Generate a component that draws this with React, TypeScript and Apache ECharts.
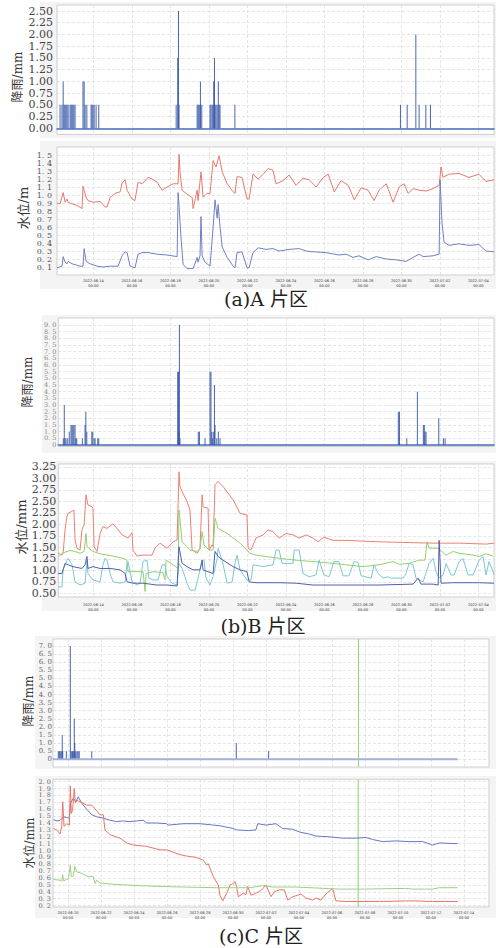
import React, { useEffect, useRef } from 'react';
import * as echarts from 'echarts';

// x values are days counted from 2022-06-00 (31 = 2022-07-01)
const X_TICKS_AB = [14, 16, 18, 20, 22, 24, 26, 28, 30, 32, 34];
const X_TICKS_C = [20, 22, 24, 26, 28, 30, 32, 34, 36, 38, 40, 42, 44];

const A_RAIN_TICKS = [0, 0.25, 0.5, 0.75, 1, 1.25, 1.5, 1.75, 2, 2.25, 2.5];
const A_WATER_TICKS = [0.1, 0.2, 0.3, 0.4, 0.5, 0.6, 0.7, 0.8, 0.9, 1.0, 1.1, 1.2, 1.3, 1.4, 1.5];
const B_RAIN_TICKS = [0, 0.5, 1, 1.5, 2, 2.5, 3, 3.5, 4, 4.5, 5, 5.5, 6, 6.5, 7, 7.5, 8, 8.5, 9];
const B_WATER_TICKS = [0.5, 0.75, 1, 1.25, 1.5, 1.75, 2, 2.25, 2.5, 2.75, 3, 3.25];
const C_RAIN_TICKS = [0, 0.5, 1, 1.5, 2, 2.5, 3, 3.5, 4, 4.5, 5, 5.5, 6, 6.5, 7];
const C_WATER_TICKS = [0.2, 0.3, 0.4, 0.5, 0.6, 0.7, 0.8, 0.9, 1.0, 1.1, 1.2, 1.3, 1.4, 1.5, 1.6, 1.7, 1.8, 1.9, 2.0];
const C_WATER_MIN = 0.18;
const C_WATER_MAX = 2.035;

const A_RAIN = [
  [12.27, 0.5], [12.37, 0.5], [12.43, 1.0], [12.48, 0.5], [12.53, 0.5], [12.58, 0.5], [12.63, 0.5], [12.69, 0.5],
  [12.79, 0.5], [12.84, 0.5], [12.89, 0.5], [12.94, 0.5], [12.99, 0.5], [13.05, 0.5],
  [13.46, 1.0], [13.52, 1.0], [13.57, 0.5], [13.66, 0.5], [13.88, 0.5], [13.93, 0.5], [13.98, 0.5], [14.04, 0.5],
  [14.14, 0.5], [14.28, 0.5],
  [18.30, 0.5], [18.38, 1.5], [18.42, 2.5], [18.45, 0.5],
  [19.39, 0.5], [19.44, 0.5], [19.49, 0.5], [19.54, 0.5], [19.56, 1.0], [19.63, 0.5],
  [20.06, 0.5], [20.11, 0.5], [20.17, 0.5], [20.22, 0.5], [20.25, 1.0], [20.29, 1.5], [20.32, 0.5], [20.37, 0.5],
  [20.43, 0.5], [20.49, 1.0], [20.53, 0.5], [20.58, 0.5],
  [21.35, 0.5],
  [29.95, 0.5], [30.30, 0.5], [30.75, 2.0], [30.92, 0.5], [31.27, 0.5], [31.51, 0.5],
];

const A_RED = [
  [12.11, 0.90], [12.27, 0.89], [12.43, 1.03], [12.53, 0.91], [12.63, 0.95], [12.69, 0.91], [12.89, 0.89], [13.15, 0.87],
  [13.41, 0.83], [13.46, 1.11], [13.62, 0.97], [13.72, 0.93], [13.98, 0.91], [14.35, 0.92], [14.61, 0.85], [14.71, 0.85],
  [14.87, 0.97], [15.13, 1.02], [15.39, 1.04], [15.49, 1.15], [15.65, 1.19], [15.75, 1.06], [16.01, 0.95], [16.16, 0.93],
  [16.32, 1.16], [16.53, 1.14], [16.84, 1.22], [17.05, 1.20], [17.31, 1.16], [17.57, 1.06], [17.83, 1.10], [18.14, 1.14],
  [18.40, 1.14], [18.45, 1.51], [18.50, 1.29], [18.61, 1.06], [18.87, 1.01], [19.13, 0.97], [19.18, 0.83], [19.39, 1.06],
  [19.44, 0.93], [19.59, 1.29], [19.70, 0.97], [19.90, 1.02], [20.06, 1.02], [20.22, 1.43], [20.37, 1.35], [20.53, 1.49],
  [20.69, 1.29], [20.95, 1.14], [21.26, 1.04], [21.36, 1.02], [21.46, 1.23], [21.72, 1.22], [21.98, 0.95], [22.09, 0.95],
  [22.29, 1.26], [22.56, 1.20], [22.82, 1.26], [23.07, 1.33], [23.33, 1.31], [23.49, 1.14], [23.85, 1.18], [24.17, 1.25],
  [24.53, 1.12], [24.89, 1.21], [25.21, 1.19], [25.57, 1.10], [25.94, 1.22], [26.20, 1.26], [26.51, 1.04], [26.87, 1.18],
  [27.24, 1.12], [27.55, 0.94], [27.91, 1.09], [28.27, 1.06], [28.58, 0.93], [28.84, 1.06], [29.21, 1.14], [29.57, 0.91],
  [29.88, 1.10], [30.14, 1.14], [30.35, 1.02], [30.61, 1.08], [30.92, 1.06], [31.28, 1.05], [31.65, 1.08], [31.96, 1.12],
  [32.06, 1.35], [32.16, 1.22], [32.47, 1.26], [32.99, 1.27], [33.51, 1.22], [34.03, 1.26], [34.39, 1.17], [34.81, 1.19],
];

const A_BLUE = [
  [12.11, 0.09], [12.37, 0.11], [12.43, 0.23], [12.53, 0.16], [12.63, 0.14], [12.69, 0.17], [12.89, 0.14], [13.05, 0.13],
  [13.31, 0.11], [13.46, 0.11], [13.52, 0.33], [13.62, 0.17], [13.83, 0.14], [14.19, 0.11], [14.50, 0.10], [14.87, 0.11],
  [15.28, 0.11], [15.49, 0.24], [15.65, 0.29], [15.75, 0.28], [15.91, 0.11], [16.16, 0.09], [16.32, 0.26], [16.53, 0.28],
  [16.84, 0.28], [17.31, 0.26], [17.83, 0.25], [18.35, 0.23], [18.40, 1.03], [18.45, 0.86], [18.56, 0.44], [18.66, 0.13],
  [18.87, 0.08], [19.18, 0.08], [19.39, 0.22], [19.44, 0.16], [19.54, 0.24], [19.59, 0.73], [19.65, 0.24], [19.80, 0.16],
  [20.06, 0.11], [20.22, 0.60], [20.32, 0.94], [20.43, 0.71], [20.48, 0.88], [20.58, 0.60], [20.69, 0.35], [20.95, 0.22],
  [21.26, 0.11], [21.36, 0.09], [21.46, 0.28], [21.72, 0.29], [21.98, 0.09], [22.09, 0.09], [22.29, 0.28], [22.56, 0.34],
  [22.97, 0.32], [23.33, 0.33], [23.65, 0.30], [24.17, 0.32], [24.69, 0.33], [25.05, 0.30], [25.41, 0.29], [26.09, 0.28],
  [26.76, 0.25], [27.13, 0.26], [27.49, 0.22], [27.80, 0.24], [28.27, 0.19], [28.69, 0.23], [29.21, 0.20], [29.72, 0.19],
  [30.24, 0.17], [30.61, 0.22], [30.92, 0.26], [31.13, 0.23], [31.65, 0.24], [31.96, 0.26], [32.01, 1.19], [32.11, 0.65],
  [32.22, 0.41], [32.47, 0.37], [32.99, 0.39], [33.51, 0.37], [34.03, 0.38], [34.39, 0.30], [34.81, 0.29],
];

const B_RAIN = [
  [12.44, 0.5], [12.49, 3.0], [12.53, 0.5], [12.58, 0.5], [12.67, 0.5], [12.75, 1.0], [12.84, 1.5], [12.89, 1.5],
  [12.94, 1.5], [12.99, 1.5], [13.05, 1.5], [13.09, 0.5], [13.14, 0.5], [13.43, 0.5], [13.57, 1.5], [13.61, 2.5],
  [13.66, 1.0], [13.92, 1.0], [13.97, 1.0], [14.04, 0.5], [14.09, 0.5], [14.23, 0.5], [14.28, 0.5],
  [18.38, 5.5], [18.42, 5.5], [18.44, 1.0], [18.47, 9.0], [18.50, 0.5],
  [19.45, 1.0], [19.51, 1.0], [19.80, 0.5], [20.06, 5.5], [20.11, 5.5], [20.15, 1.0], [20.18, 0.5], [20.23, 1.0],
  [20.29, 4.5], [20.32, 1.5], [20.41, 0.5], [20.49, 1.0], [20.58, 0.5],
  [29.84, 2.5], [29.90, 2.5], [30.28, 0.5], [30.83, 4.0], [31.14, 1.5], [31.19, 1.5], [31.23, 1.0], [31.28, 1.0],
  [31.94, 2.0], [32.18, 0.5], [32.27, 0.5],
];

const B_RED = [
  [12.17, 1.37], [12.37, 1.33], [12.43, 1.37], [12.53, 1.88], [12.63, 2.17], [12.69, 2.24], [12.89, 2.28], [12.99, 2.31],
  [13.05, 1.66], [13.15, 1.48], [13.31, 1.44], [13.41, 1.88], [13.52, 1.99], [13.62, 2.64], [13.72, 2.42], [13.93, 2.38],
  [13.98, 2.35], [14.04, 1.51], [14.19, 1.41], [14.35, 1.80], [14.50, 1.95], [14.71, 1.91], [15.02, 2.01], [15.23, 1.91],
  [15.49, 1.77], [15.80, 1.70], [16.01, 1.82], [16.06, 1.44], [16.27, 1.31], [16.58, 1.33], [17.05, 1.33], [17.20, 1.48],
  [17.46, 1.59], [17.83, 1.48], [18.14, 1.62], [18.35, 1.66], [18.45, 3.14], [18.50, 2.82], [18.66, 2.67], [18.87, 2.49],
  [19.02, 2.31], [19.13, 1.44], [19.39, 1.37], [19.54, 1.48], [19.65, 2.64], [19.70, 2.38], [19.96, 2.35], [20.01, 1.44],
  [20.17, 1.55], [20.22, 1.51], [20.32, 2.86], [20.48, 2.93], [20.74, 2.82], [21.26, 2.53], [21.62, 2.24], [21.98, 2.20],
  [22.04, 1.48], [22.19, 1.44], [22.45, 1.70], [22.82, 1.77], [23.07, 1.88], [23.33, 1.84], [23.65, 1.70], [24.01, 1.80],
  [24.37, 1.77], [24.69, 1.70], [25.05, 1.77], [25.41, 1.70], [25.67, 1.62], [25.98, 1.72], [26.45, 1.65], [27.13, 1.65],
  [28.84, 1.62], [30.61, 1.60], [31.65, 1.59], [33.00, 1.59], [34.40, 1.57], [34.81, 1.59],
];

const B_GREEN = [
  [12.17, 1.28], [12.37, 1.37], [12.63, 1.41], [12.79, 1.43], [13.05, 1.41], [13.31, 1.37], [13.52, 1.41], [13.62, 1.80],
  [13.67, 1.51], [13.98, 1.41], [14.35, 1.36], [15.02, 1.31], [15.54, 1.26], [15.75, 1.22], [15.80, 0.97], [16.06, 0.97],
  [16.43, 0.97], [16.58, 0.97], [16.69, 0.54], [16.74, 0.93], [17.10, 0.97], [17.62, 0.95], [17.72, 0.79], [17.78, 1.22],
  [18.14, 1.12], [18.40, 1.04], [18.45, 2.31], [18.61, 1.62], [18.87, 1.51], [19.02, 1.44], [19.39, 1.41], [19.54, 1.46],
  [19.65, 1.84], [19.75, 1.55], [20.01, 1.44], [20.22, 1.44], [20.32, 2.13], [20.48, 1.91], [20.95, 1.80], [21.62, 1.59],
  [22.14, 1.37], [22.45, 1.33], [22.97, 1.30], [23.65, 1.26], [24.53, 1.22], [25.41, 1.19], [26.45, 1.15], [27.13, 1.12],
  [28.01, 1.08], [28.84, 1.12], [29.57, 1.19], [29.88, 1.13], [30.40, 1.15], [30.92, 1.22], [31.23, 1.22], [31.33, 1.62],
  [31.44, 1.48], [31.91, 1.48], [32.32, 1.33], [32.69, 1.41], [33.00, 1.37], [33.72, 1.33], [34.04, 1.30], [34.40, 1.36],
  [34.76, 1.31],
];

const B_TEAL = [
  [12.17, 0.64], [12.37, 0.64], [12.43, 1.01], [12.63, 1.22], [12.69, 1.26], [12.89, 1.12], [13.05, 0.75], [13.31, 0.68],
  [13.57, 0.72], [13.67, 1.22], [13.72, 0.93], [13.98, 0.79], [14.35, 0.75], [14.50, 1.12], [14.61, 1.26], [14.71, 1.22],
  [14.87, 0.93], [15.02, 0.75], [15.39, 0.72], [15.65, 0.75], [15.75, 1.15], [15.80, 1.19], [16.01, 0.75], [16.27, 0.68],
  [16.43, 0.72], [16.58, 1.19], [16.79, 1.22], [16.89, 0.83], [17.10, 0.79], [17.36, 0.79], [17.57, 1.12], [17.72, 1.12],
  [17.83, 0.86], [18.09, 0.72], [18.35, 0.68], [18.45, 1.15], [18.61, 1.04], [18.87, 0.72], [19.02, 0.57], [19.28, 0.57],
  [19.44, 0.83], [19.65, 1.22], [19.75, 1.22], [19.85, 0.83], [20.06, 0.68], [20.22, 0.86], [20.43, 1.26], [20.48, 1.48],
  [20.69, 1.22], [20.95, 0.72], [21.21, 0.75], [21.36, 1.15], [21.46, 1.33], [21.62, 1.01], [21.98, 0.79], [22.19, 0.79],
  [22.30, 1.12], [22.82, 1.08], [23.33, 1.12], [23.49, 1.44], [23.65, 1.44], [23.80, 1.15], [24.37, 1.15], [24.43, 1.44],
  [24.69, 1.44], [24.89, 0.93], [25.21, 0.86], [25.57, 0.90], [25.72, 1.22], [25.98, 0.90], [26.24, 0.86], [26.50, 1.19],
  [26.76, 1.19], [26.97, 0.88], [27.28, 0.88], [27.54, 1.19], [27.75, 1.17], [27.91, 0.88], [28.43, 0.83], [28.58, 1.12],
  [28.79, 0.93], [29.05, 0.83], [29.31, 0.86], [29.46, 0.83], [30.09, 0.83], [30.24, 0.93], [30.40, 1.15], [30.61, 1.12],
  [30.76, 0.83], [31.13, 0.75], [31.44, 1.15], [31.65, 1.26], [31.80, 0.97], [31.96, 0.83], [32.17, 0.90], [32.32, 1.15],
  [32.58, 0.90], [32.74, 0.90], [33.00, 1.19], [33.20, 1.26], [33.46, 0.90], [33.72, 0.90], [34.04, 1.22], [34.24, 1.30],
  [34.40, 0.90], [34.55, 1.19], [34.76, 0.97], [34.81, 0.90],
];

const B_BLUE = [
  [12.17, 0.93], [12.37, 0.93], [12.53, 1.15], [12.69, 1.12], [12.94, 1.08], [13.41, 1.04], [13.57, 1.12], [13.67, 1.30],
  [13.72, 1.04], [13.98, 1.08], [14.35, 1.04], [14.87, 1.04], [15.39, 1.01], [15.65, 0.93], [15.75, 0.75], [16.06, 0.72],
  [16.58, 0.72], [17.31, 0.68], [17.83, 0.68], [18.35, 0.66], [18.45, 1.51], [18.61, 1.15], [18.87, 1.08], [19.18, 1.01],
  [19.54, 1.01], [19.65, 1.22], [19.70, 1.01], [20.22, 0.93], [20.32, 1.41], [20.48, 1.30], [20.74, 1.22], [21.26, 1.08],
  [21.62, 1.01], [21.98, 0.97], [22.09, 0.75], [22.45, 0.73], [23.65, 0.73], [24.53, 0.72], [25.41, 0.68], [27.13, 0.68],
  [28.84, 0.68], [30.61, 0.70], [30.87, 0.83], [31.02, 0.70], [31.65, 0.70], [31.91, 0.68], [31.96, 1.65], [32.06, 0.72],
  [32.69, 0.73], [34.04, 0.73], [34.81, 0.72],
];

const C_RAIN = [
  [19.41, 0.5], [19.47, 0.5], [19.52, 0.5], [19.58, 0.5], [19.64, 0.5], [19.65, 1.5], [19.68, 0.5], [19.90, 0.5],
  [20.14, 7.0], [20.18, 0.5], [20.24, 0.5], [20.28, 0.5], [20.32, 0.5], [20.38, 2.5], [20.41, 1.0], [20.42, 0.5],
  [20.48, 0.5], [20.55, 0.5], [20.61, 0.5], [20.68, 0.5], [21.44, 0.5], [30.20, 1.0], [32.16, 0.5],
];
const C_RAIN_BASE = [[19.09, 0], [43.62, 0]];
const C_MARK_DAY = 37.59;

const C_BLUE = [
  [19.11, 1.45], [19.32, 1.43], [19.52, 1.44], [19.72, 1.49], [19.92, 1.48], [20.08, 1.47], [20.16, 1.69], [20.32, 1.76],
  [20.48, 1.71], [20.62, 1.78], [20.83, 1.69], [21.13, 1.60], [21.44, 1.52], [21.74, 1.49], [22.14, 1.47], [22.55, 1.44],
  [22.95, 1.42], [23.35, 1.43], [23.76, 1.42], [24.16, 1.43], [24.56, 1.44], [24.77, 1.40], [25.37, 1.40], [25.98, 1.39],
  [26.08, 1.37], [26.99, 1.39], [28.00, 1.39], [28.81, 1.37], [29.21, 1.36], [30.02, 1.32], [30.22, 1.30], [30.93, 1.29],
  [31.39, 1.30], [31.50, 1.39], [32.00, 1.37], [32.61, 1.39], [33.01, 1.32], [33.62, 1.31], [34.02, 1.27], [34.62, 1.24],
  [35.03, 1.21], [35.84, 1.20], [36.65, 1.18], [37.45, 1.18], [38.06, 1.19], [38.47, 1.16], [39.07, 1.13], [39.88, 1.14],
  [40.68, 1.13], [41.50, 1.13], [42.10, 1.08], [42.50, 1.11], [43.62, 1.10],
];

const C_RED = [
  [19.11, 1.32], [19.32, 1.30], [19.52, 1.24], [19.62, 1.35], [19.68, 1.71], [19.76, 1.35], [19.92, 1.39], [20.08, 1.37],
  [20.14, 1.94], [20.20, 1.54], [20.28, 1.59], [20.38, 1.90], [20.44, 1.69], [20.53, 1.73], [20.73, 1.71], [21.13, 1.66],
  [21.44, 1.66], [21.94, 1.52], [22.14, 1.52], [22.24, 1.30], [22.55, 1.23], [23.15, 1.18], [23.56, 1.11], [23.96, 1.08],
  [24.77, 1.06], [25.58, 1.01], [25.98, 1.01], [26.79, 0.94], [27.19, 0.92], [27.80, 0.90], [28.20, 0.86], [28.41, 0.79],
  [28.50, 0.81], [28.81, 0.62], [29.11, 0.50], [29.21, 0.35], [29.38, 0.27], [29.62, 0.38], [29.82, 0.50], [30.02, 0.52],
  [30.12, 0.55], [30.22, 0.48], [30.32, 0.33], [30.62, 0.38], [30.79, 0.36], [30.89, 0.48], [31.09, 0.35], [31.39, 0.38],
  [31.70, 0.42], [32.00, 0.50], [32.30, 0.33], [32.50, 0.40], [32.81, 0.43], [33.11, 0.43], [33.32, 0.28], [33.62, 0.33],
  [33.92, 0.35], [34.12, 0.37], [34.42, 0.31], [34.83, 0.28], [35.03, 0.31], [35.33, 0.28], [35.64, 0.37], [36.04, 0.45],
  [36.24, 0.27], [36.85, 0.26], [38.87, 0.26], [40.89, 0.27], [42.10, 0.26], [43.62, 0.26],
];

const C_GREEN = [
  [19.11, 0.58], [19.52, 0.57], [19.62, 0.56], [19.68, 0.65], [19.72, 0.56], [20.02, 0.59], [20.14, 0.79], [20.20, 0.62],
  [20.32, 0.63], [20.42, 0.77], [20.53, 0.69], [20.83, 0.67], [21.13, 0.63], [21.53, 0.62], [21.64, 0.52], [21.74, 0.57],
  [21.94, 0.53], [22.75, 0.51], [23.56, 0.50], [24.36, 0.49], [25.37, 0.48], [26.99, 0.47], [29.01, 0.46], [31.03, 0.46],
  [31.80, 0.49], [32.41, 0.47], [33.82, 0.47], [36.44, 0.44], [37.86, 0.44], [40.48, 0.45], [40.89, 0.44], [42.10, 0.44],
  [42.50, 0.46], [43.62, 0.46],
];

const SERIF = "'DejaVu Serif', 'Noto Sans CJK SC', serif";
const CJK = "'DejaVu Serif', 'Noto Sans CJK SC', sans-serif";
const BAR = '#3354a6';
const MARK_GREEN = '#9fd486';

const fmtDay = (v: number) => {
  const r = Math.round(v);
  const m = r > 30 ? '07' : '06';
  const d = r > 30 ? r - 30 : r;
  return `2022-${m}-${String(d).padStart(2, '0')}\n00:00`;
};
const spaced = (digits: number) => (v: number) => (Math.abs(v) < 1e-9 && digits === 1 ? '0' : v.toFixed(digits).replace('.', '. '));
const plain = (digits: number) => (v: number) => v.toFixed(digits);

const grid = (left: number, top: number, width: number, height: number) => ({
  left, top, width, height, show: true, borderColor: '#cfcfcf', borderWidth: 1, backgroundColor: '#ffffff',
});

const split = () => ({ show: true, lineStyle: { color: '#dedede', type: [3, 2] as any, width: 0.8 } });

function xAx(gridIndex: number, min: number, max: number, ticks: number[], showLabel: boolean, margin: number, baseColor?: string) {
  return {
    type: 'value', gridIndex, min, max,
    axisLine: baseColor ? { show: true, onZero: true, lineStyle: { color: baseColor, width: 1.5 } } : { show: false },
    axisTick: { show: false, customValues: ticks },
    axisLabel: {
      show: showLabel, customValues: ticks, formatter: fmtDay, fontSize: 3.6, lineHeight: 4.6,
      color: '#333', margin, fontFamily: 'DejaVu Sans', showMinLabel: true, showMaxLabel: true, hideOverlap: false,
    },
    splitLine: split(),
  };
}

function yAx(gridIndex: number, min: number, max: number, ticks: number[], formatter: any, fontSize: number, lineHeight: number, color: string, margin: number) {
  return {
    type: 'value', gridIndex, min, max,
    axisLine: { show: false },
    axisTick: { show: false, customValues: ticks },
    axisLabel: {
      customValues: ticks, formatter, fontSize, lineHeight, color, margin, fontFamily: SERIF,
      showMinLabel: true, showMaxLabel: true, hideOverlap: false,
    },
    splitLine: split(),
  };
}

const line = (xi: number, data: number[][], color: string, extra: any = {}) => ({
  type: 'line', xAxisIndex: xi, yAxisIndex: xi, data, showSymbol: false, symbol: 'none',
  lineStyle: { color, width: 1 }, itemStyle: { color }, z: 3, ...extra,
});
const bars = (xi: number, data: number[][]) => ({
  type: 'bar', xAxisIndex: xi, yAxisIndex: xi, data, barWidth: 1, itemStyle: { color: BAR, opacity: 0.9 },
});

const markGreen = () => ({
  symbol: ['none', 'none'], silent: true, label: { show: false },
  lineStyle: { color: MARK_GREEN, width: 1.2, type: 'solid' }, data: [{ xAxis: C_MARK_DAY }],
});

export default function App() {
  const ref = useRef<HTMLDivElement>(null);
  useEffect(() => {
    if (!ref.current) return;
    const chart = echarts.init(ref.current, undefined, { renderer: 'svg' });
    const panelBg = (x: number, y: number, w: number, h: number) => ({
      type: 'rect', z: -10, shape: { x, y, width: w, height: h }, style: { fill: '#f4f4f4' }, silent: true,
    });
    const yName = (text: string, x: number, y: number, size: number) => ({
      type: 'text', x, y, rotation: Math.PI / 2, z: 10,
      style: { text, x: 0, y: 0, align: 'center', verticalAlign: 'middle', fontSize: size, fontFamily: CJK, fill: '#333' },
    });
    const caption = (text: string, x: number, y: number) => ({
      type: 'text', x, y, z: 10,
      style: { text, x: 0, y: 0, align: 'center', verticalAlign: 'middle', fontSize: 19, fontFamily: CJK, fill: '#222' },
    });
    chart.setOption({
      animation: false,
      backgroundColor: '#ffffff',
      grid: [
        grid(57, 5, 437, 129.5),
        grid(57, 147, 437, 128),
        grid(58.3, 318, 435.7, 128.5),
        grid(58.3, 464, 435.7, 133),
        grid(53, 639, 436, 128),
        grid(53, 779.3, 436, 127.7),
      ],
      xAxis: [
        xAx(0, 12.11, 34.81, X_TICKS_AB, false, 4, '#4a6bc0'),
        xAx(1, 12.11, 34.81, X_TICKS_AB, true, 4),
        xAx(2, 12.18, 34.81, X_TICKS_AB, false, 4, '#4a6bc0'),
        xAx(3, 12.18, 34.81, X_TICKS_AB, true, 6),
        xAx(4, 19.09, 45.52, X_TICKS_C, false, 4),
        xAx(5, 19.09, 45.52, X_TICKS_C, true, 4),
      ],
      yAxis: [
        yAx(0, -0.132, 2.628, A_RAIN_TICKS, plain(2), 11, 11, '#444', 4),
        yAx(1, 0, 1.6, A_WATER_TICKS, spaced(1), 8, 7.5, '#555', 5),
        yAx(2, -0.11, 9.52, B_RAIN_TICKS, spaced(1), 6.5, 6.4, '#888', 2),
        yAx(3, 0.42, 3.31, B_WATER_TICKS, plain(2), 11, 10.5, '#444', 2),
        yAx(4, -0.48, 7.43, C_RAIN_TICKS, spaced(1), 7, 7.5, '#666', 1),
        yAx(5, C_WATER_MIN, C_WATER_MAX, C_WATER_TICKS, spaced(1), 6.5, 6.6, '#666', 2),
      ],
      graphic: [
        panelBg(40, 2, 456, 136),
        panelBg(40, 141, 456, 148),
        panelBg(42, 315, 454, 138),
        panelBg(42, 461, 454, 150),
        panelBg(35, 636, 461, 133),
        panelBg(35, 776, 461, 142),
        yName('降雨/mm', 18, 77, 12),
        yName('水位/m', 23, 208, 13),
        yName('降雨/mm', 28, 382, 12),
        yName('水位/mm', 21, 527, 13),
        yName('降雨/mm', 29, 701, 12),
        yName('水位/mm', 30, 843, 12),
        caption('(a)A 片区', 266, 299),
        caption('(b)B 片区', 263, 626),
        caption('(c)C 片区', 261, 936),
      ],
      series: [
        bars(0, A_RAIN),
        line(1, A_RED, '#e9786a'),
        line(1, A_BLUE, '#6f7fc4'),
        bars(2, B_RAIN),
        line(3, B_RED, '#ee7f72'),
        line(3, B_GREEN, '#93d06e'),
        line(3, B_TEAL, '#7cc7d2'),
        line(3, B_BLUE, '#4f5fb0'),
        bars(4, C_RAIN),
        line(4, C_RAIN_BASE, '#9fb1dd', { lineStyle: { color: '#9fb1dd', width: 2 }, markLine: markGreen() }),
        line(5, [[C_MARK_DAY, C_WATER_MIN], [C_MARK_DAY, C_WATER_MAX]], MARK_GREEN, { lineStyle: { color: MARK_GREEN, width: 1.2 }, z: 2 }),
        line(5, C_BLUE, '#6676c4'),
        line(5, C_RED, '#ec7466'),
        line(5, C_GREEN, '#9ccf80'),
      ],
    });
    return () => chart.dispose();
  }, []);
  return <div ref={ref} style={{ position: 'absolute', left: 0, top: 0, width: 496, height: 948 }} />;
}
